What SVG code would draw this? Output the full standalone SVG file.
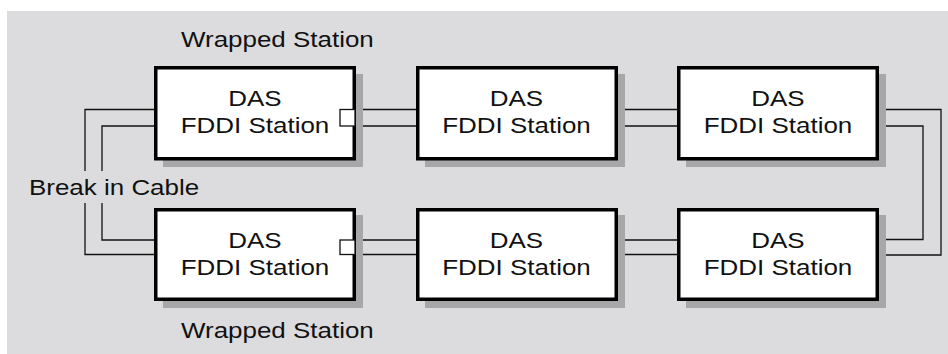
<svg xmlns="http://www.w3.org/2000/svg" width="948" height="354" viewBox="0 0 948 354">
<style>
.bg{fill:#dcdcde}
.sh{fill:#a7a7a9}
.box{fill:#fff;stroke:#000;stroke-width:3.5}
.ln{fill:none;stroke:#111;stroke-width:1.3}
.wrap{fill:#fff;stroke:#111;stroke-width:1.3}
text{font-family:"Liberation Sans",Arial,sans-serif;font-size:22px;fill:#111}
.c{text-anchor:middle}
</style>
<rect class="bg" x="7" y="11" width="941" height="343"/>
<g id="connectors">
<path class="ln" d="M154 109.5H85V171M85 203V254.5H154"/>
<path class="ln" d="M154 126H102V171M102 203V240H154"/>
<path class="ln" d="M356 109.5H416M356 126H416M617 109.5H677M617 126H677"/>
<path class="ln" d="M356 240H416M356 254.5H416M617 240H677M617 254.5H677"/>
<path class="ln" d="M879 109.5H941V255H879"/>
<path class="ln" d="M879 126H923V239.5H879"/>
</g>
<g id="n1"><rect class="sh" x="163" y="74" width="200" height="93"/><rect class="box" x="155.75" y="67.75" width="198.5" height="91"/>
<rect class="wrap" x="340" y="109.5" width="15" height="16.5"/>
<text transform="translate(255 106) scale(1.18 1)" class="c">DAS</text><text transform="translate(255 132.5) scale(1.18 1)" class="c">FDDI Station</text></g>
<g id="n2"><rect class="sh" x="425" y="74" width="200" height="93"/><rect class="box" x="417.75" y="67.75" width="198.5" height="91"/>
<text transform="translate(516.5 106) scale(1.18 1)" class="c">DAS</text><text transform="translate(516.5 132.5) scale(1.18 1)" class="c">FDDI Station</text></g>
<g id="n3"><rect class="sh" x="686" y="74" width="200" height="93"/><rect class="box" x="678.75" y="67.75" width="198.5" height="91"/>
<text transform="translate(778 106) scale(1.18 1)" class="c">DAS</text><text transform="translate(778 132.5) scale(1.18 1)" class="c">FDDI Station</text></g>
<g id="n4"><rect class="sh" x="163" y="215" width="200" height="93"/><rect class="box" x="155.75" y="209.75" width="198.5" height="89.5"/>
<rect class="wrap" x="340" y="240" width="15" height="14.5"/>
<text transform="translate(255 248) scale(1.18 1)" class="c">DAS</text><text transform="translate(255 275) scale(1.18 1)" class="c">FDDI Station</text></g>
<g id="n5"><rect class="sh" x="425" y="215" width="200" height="93"/><rect class="box" x="417.75" y="209.75" width="198.5" height="89.5"/>
<text transform="translate(516.5 248) scale(1.18 1)" class="c">DAS</text><text transform="translate(516.5 275) scale(1.18 1)" class="c">FDDI Station</text></g>
<g id="n6"><rect class="sh" x="686" y="215" width="200" height="93"/><rect class="box" x="678.75" y="209.75" width="198.5" height="89.5"/>
<text transform="translate(778 248) scale(1.18 1)" class="c">DAS</text><text transform="translate(778 275) scale(1.18 1)" class="c">FDDI Station</text></g>
<g id="labels">
<text transform="translate(181 46.5) scale(1.18 1)">Wrapped Station</text>
<text transform="translate(29 195) scale(1.18 1)">Break in Cable</text>
<text transform="translate(181 338) scale(1.18 1)">Wrapped Station</text>
</g>
</svg>
